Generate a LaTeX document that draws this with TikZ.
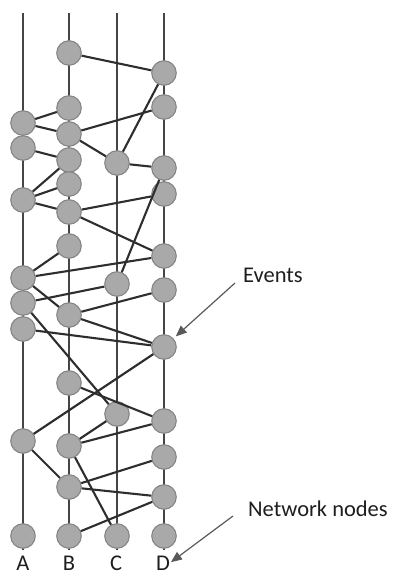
\documentclass[tikz,border=0pt]{standalone}
\usepackage{fontspec}
\setmainfont{Carlito}
\usetikzlibrary{arrows.meta}
\definecolor{linegray}{HTML}{454545}
\definecolor{edgegray}{HTML}{2E2E2E}
\definecolor{evfill}{HTML}{A9A9A9}
\definecolor{evdraw}{HTML}{858585}
\definecolor{txt}{HTML}{1E1E1E}
\tikzset{
  ev/.style={circle,fill=evfill,draw=evdraw,line width=1.1pt,minimum size=24.5pt,inner sep=0pt},
  netline/.style={draw=linegray,line width=2pt},
  edge/.style={draw=edgegray,line width=2.1pt},
  lbl/.style={font=\fontsize{22.5}{26}\selectfont,text=txt,inner sep=0pt},
  pointer/.style={draw=black!65,line width=1.2pt,-{Triangle[length=11pt,width=9pt]},shorten >=1pt}
}
\begin{document}
\begin{tikzpicture}[x=1pt,y=-1pt]
\useasboundingbox (0,0) rectangle (399,577);
% network node lines
\foreach \n/\x in {A/23,B/69,C/117,D/164}{
  \coordinate (top\n) at (\x,13);
  \coordinate (bot\n) at (\x,550);
  \draw[netline] (top\n) -- (bot\n);
}
% events
\foreach \n/\x/\y in {B1/69/53, D1/164/73, D2/164/107, B2/69/108, A1/23/123, B3/69/134,
  A2/23/148, B4/69/160, C1/117/163, D3/164/168, B5/69/184, D4/164/194, A3/23/200,
  B6/69/212, B7/69/246, D5/164/256, A4/23/278, C2/117/284, D6/164/290, A5/23/303,
  B8/69/315, A6/23/329, D7/164/347, B9/69/383, C3/117/414, D8/164/421, A7/23/441,
  B10/69/446, D9/164/457, B11/69/487, D10/164/497, Ab/23/536, Bb/69/536, Cb/117/536, Db/164/536}{
  \node[ev] (\n) at (\x,\y) {};
}
% connectors between events
\foreach \a/\b in {B1/D1, D1/C1, D2/B3, A1/B2, A1/B3, B3/C1, A2/B4, B4/A3, B5/A3, C1/D3,
  D3/C2, A3/B6, B6/D4, B6/D5, B7/A4, A4/D5, A4/B8, A5/C2, B8/D6, A5/C3, A6/D7, B8/D7,
  D7/A7, B9/D8, C3/B10, B10/D8, A7/B11, B11/D9, B11/D10, B10/Cb, D10/Bb}{
  \draw[edge] (\a) -- (\b);
}
% labels
\foreach \n/\x in {A/23,B/69,C/116,D/163}{
  \node[lbl,anchor=base] (lab\n) at (\x,570) {\n};
}
\node[lbl,anchor=base west] (events) at (243,282) {Events};
\node[lbl,anchor=base west] (netnodes) at (248,516) {Network nodes};
\coordinate (evs) at (235,283);
\coordinate (nns) at (233,516);
\draw[pointer,shorten >=3pt] (evs) -- (D7);
\draw[pointer] (nns) -- (labD.east);
\end{tikzpicture}
\end{document}
